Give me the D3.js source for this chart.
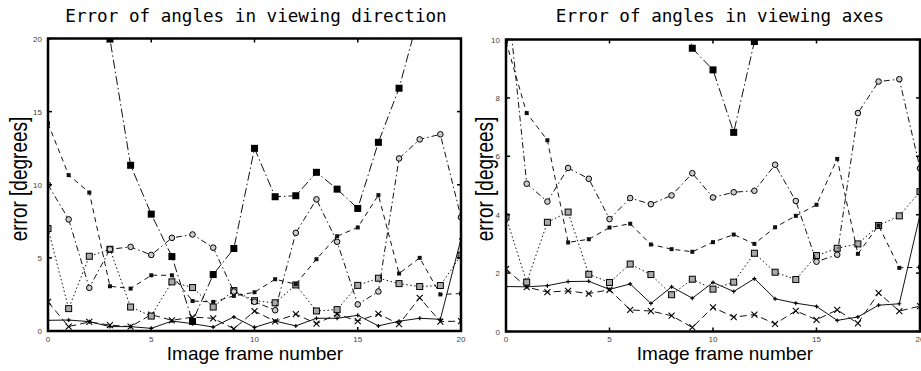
<!DOCTYPE html>
<html>
<head>
<meta charset="utf-8">
<script src="https://cdn.jsdelivr.net/npm/d3@7"></script>
<style>
  body { margin: 0; background: #fff; }
  .tick-label { font-family: "Liberation Sans", Arial, sans-serif; font-size: 8px; fill: #444; }
  .axis-title { font-family: "Liberation Sans", Arial, sans-serif; font-size: 19px; fill: #000; }
  .chart-title { font-family: "DejaVu Sans Mono", monospace; font-size: 17.6px; fill: #000; }
</style>
</head>
<body>
<div id="canvas"></div>
<script>
// frame numbers on the x axis
const frames = [0, 1, 2, 3, 4, 5, 6, 7, 8, 9, 10, 11, 12, 13, 14, 15, 16, 17, 18, 19, 20];

// left chart: error of angles in viewing direction (degrees)
const dirSolid   = [0.73, 0.75, 0.64, 0.3, 0.3, 0.18, 0.68, 0.5, 0.27, 0.96, 0.25, 0.68, 0.35, 0.87, 0.87, 1.07, 0.35, 0.67, 0.87, 0.8, 6.3];
const dirCross   = [1.99, 0.3, 0.62, 0.4, 0.3, 1.12, 0.73, 0.95, 0.87, 0.15, 1.36, 0.66, 1.15, 0.5, 1.15, 0.68, 1.17, 0.47, 2.27, 0.64, 0.68];
const dirBox     = [7.0, 1.53, 5.11, 5.59, 1.64, 1.02, 3.36, 2.97, 1.64, 2.76, 2.07, 1.93, 3.15, 1.37, 1.46, 3.12, 3.61, 3.24, 3.04, 3.11, 5.18];
const dirDot     = [14.2, 10.66, 9.47, 3.06, 2.9, 3.81, 3.81, 2.05, 1.99, 2.4, 2.65, 3.54, 3.2, 4.91, 6.48, 7.08, 9.29, 3.93, 5.0, 2.5, 2.56];
const dirCircle  = [10.0, 7.63, 2.95, 5.59, 5.75, 5.2, 6.37, 6.6, 5.7, 2.7, 2.0, 1.42, 6.71, 9.0, 6.1, 1.82, 2.7, 11.8, 13.1, 13.45, 7.77];
const dirBig     = [26, 31, 24, 19.96, 11.33, 7.99, 5.09, 0.65, 3.86, 5.64, 12.49, 9.18, 9.25, 10.85, 9.7, 8.38, 12.9, 16.6, 21.8, 25, 23];

// right chart: error of angles in viewing axes (degrees)
const axSolid    = [1.54, 1.53, 1.57, 1.71, 1.72, 1.44, 1.63, 0.96, 1.53, 1.14, 1.68, 1.37, 1.81, 1.12, 0.97, 0.86, 0.38, 0.5, 0.9, 0.95, 4.0];
const axCross    = [2.14, 1.52, 1.35, 1.39, 1.3, 1.43, 0.74, 0.7, 0.54, 0.14, 0.83, 0.49, 0.58, 0.26, 0.71, 0.4, 0.74, 0.28, 1.32, 0.7, 0.87];
const axBox      = [3.92, 1.69, 3.74, 4.09, 1.96, 1.68, 2.31, 1.95, 1.26, 1.79, 1.45, 1.69, 2.68, 2.03, 1.78, 2.6, 2.85, 3.0, 3.63, 3.96, 4.79];
const axDot      = [9.93, 7.48, 6.55, 3.05, 3.16, 3.56, 3.69, 2.98, 2.82, 2.73, 3.06, 3.32, 3.0, 3.57, 3.96, 4.34, 5.91, 2.66, 3.63, 2.18, 2.2];
const axCircle   = [12.0, 5.06, 4.45, 5.6, 5.23, 3.85, 4.57, 4.36, 4.66, 5.42, 4.59, 4.77, 4.82, 5.71, 4.47, 2.39, 2.63, 7.48, 8.56, 8.64, 5.59];
const axBig      = [16, 18, 17, 15, 14, 15, 13, 14, 12.7, 9.7, 8.96, 6.82, 9.93, 13, 15, 16, 17, 18, 19, 17, 16];

const xTicks = [0, 5, 10, 15, 20];
const dirYTicks = [0, 5, 10, 15, 20];
const axYTicks = [0, 2, 4, 6, 8, 10];

// line style and marker per series (same order in both charts)
const styles = [
    {dash: null,            marker: "plus"},
    {dash: "7,4",           marker: "cross"},
    {dash: "1.5,2.5",       marker: "box"},
    {dash: "5,4",           marker: "dot"},
    {dash: "6,3,1.5,3",     marker: "circle"},
    {dash: "9,3,1.5,3",     marker: "big"}
];

const svg = d3.select("#canvas")
    .append("svg")
    .attr("width", 921)
    .attr("height", 371);

function drawPanel(opts) {
    const x = d3.scaleLinear().domain([0, 20]).range(opts.xr);
    const y = d3.scaleLinear().domain(opts.yd).range(opts.yr);
    const g = svg.append("g");

    // clip so the off-scale values get cut at the frame
    const clipId = "clip-" + opts.id;
    svg.append("clipPath").attr("id", clipId)
        .append("rect")
        .attr("x", opts.xr[0]).attr("y", opts.yr[1])
        .attr("width", opts.xr[1] - opts.xr[0])
        .attr("height", opts.yr[0] - opts.yr[1]);

    const plot = g.append("g").attr("clip-path", "url(#" + clipId + ")");

    const line = d3.line()
        .x((d, i) => x(frames[i]))
        .y(d => y(d));

    opts.series.forEach((vals, k) => {
        const st = styles[k];
        plot.append("path")
            .datum(vals)
            .attr("d", line)
            .attr("fill", "none")
            .attr("stroke", "#111")
            .attr("stroke-width", 1)
            .attr("stroke-dasharray", st.dash);

        const pts = plot.append("g");
        vals.forEach((v, i) => {
            const px = x(frames[i]), py = y(v);
            if (st.marker === "plus") {
                pts.append("path")
                    .attr("d", `M${px-2},${py}H${px+2}M${px},${py-2}V${py+2}`)
                    .attr("stroke", "#000").attr("stroke-width", 1.2);
            } else if (st.marker === "cross") {
                pts.append("path")
                    .attr("d", `M${px-3},${py-3}L${px+3},${py+3}M${px-3},${py+3}L${px+3},${py-3}`)
                    .attr("stroke", "#000").attr("stroke-width", 1.1);
            } else if (st.marker === "box") {
                pts.append("rect")
                    .attr("x", px - 3).attr("y", py - 3)
                    .attr("width", 6).attr("height", 6)
                    .attr("fill", "#aaa").attr("stroke", "#000").attr("stroke-width", 1);
            } else if (st.marker === "dot") {
                pts.append("rect")
                    .attr("x", px - 2).attr("y", py - 2)
                    .attr("width", 4).attr("height", 4)
                    .attr("fill", "#111");
            } else if (st.marker === "circle") {
                pts.append("circle")
                    .attr("cx", px).attr("cy", py).attr("r", 2.8)
                    .attr("fill", "#ccc").attr("stroke", "#000").attr("stroke-width", 1);
            } else if (st.marker === "big") {
                pts.append("rect")
                    .attr("x", px - 3.5).attr("y", py - 3.5)
                    .attr("width", 7).attr("height", 7)
                    .attr("fill", "#000");
            }
        });
    });

    // frame
    g.append("rect")
        .attr("x", opts.xr[0]).attr("y", opts.yr[1])
        .attr("width", opts.xr[1] - opts.xr[0])
        .attr("height", opts.yr[0] - opts.yr[1])
        .attr("fill", "none")
        .attr("stroke", "#000")
        .attr("stroke-width", 2.5);

    // inward ticks on all four sides
    const tickG = g.append("g").attr("stroke", "#000").attr("stroke-width", 1.5);
    xTicks.forEach(t => {
        tickG.append("line").attr("x1", x(t)).attr("x2", x(t))
            .attr("y1", opts.yr[0]).attr("y2", opts.yr[0] - 4);
        tickG.append("line").attr("x1", x(t)).attr("x2", x(t))
            .attr("y1", opts.yr[1]).attr("y2", opts.yr[1] + 4);
        g.append("text")
            .attr("class", "tick-label")
            .attr("x", x(t)).attr("y", opts.yr[0] + 10.5)
            .attr("text-anchor", "middle")
            .text(t);
    });
    opts.yTicks.forEach(t => {
        tickG.append("line").attr("x1", opts.xr[0]).attr("x2", opts.xr[0] + 4)
            .attr("y1", y(t)).attr("y2", y(t));
        tickG.append("line").attr("x1", opts.xr[1]).attr("x2", opts.xr[1] - 4)
            .attr("y1", y(t)).attr("y2", y(t));
        g.append("text")
            .attr("class", "tick-label")
            .attr("x", opts.xr[0] - 6).attr("y", y(t) + 3)
            .attr("text-anchor", "end")
            .text(t);
    });

    // titles
    g.append("text")
        .attr("class", "chart-title")
        .attr("x", opts.titleX).attr("y", 22)
        .attr("text-anchor", "middle")
        .text(opts.title);

    g.append("text")
        .attr("class", "axis-title")
        .attr("x", opts.xTitleX).attr("y", 360)
        .attr("text-anchor", "middle")
        .text("Image frame number");

    g.append("text")
        .attr("class", "axis-title")
        .attr("transform", "translate(" + opts.yTitleX + ",179) rotate(-90) scale(1,1.25)")
        .attr("text-anchor", "middle")
        .text("error [degrees]");
}

drawPanel({
    id: "dir",
    xr: [48, 461], yd: [0, 20], yr: [331, 38.5],
    yTicks: dirYTicks,
    series: [dirSolid, dirCross, dirBox, dirDot, dirCircle, dirBig],
    title: "Error of angles in viewing direction",
    titleX: 256, xTitleX: 255, yTitleX: 27
});

drawPanel({
    id: "ax",
    xr: [506, 920], yd: [0, 10], yr: [331.5, 39.5],
    yTicks: axYTicks,
    series: [axSolid, axCross, axBox, axDot, axCircle, axBig],
    title: "Error of angles in viewing axes",
    titleX: 720, xTitleX: 725, yTitleX: 493
});
</script>
</body>
</html>
